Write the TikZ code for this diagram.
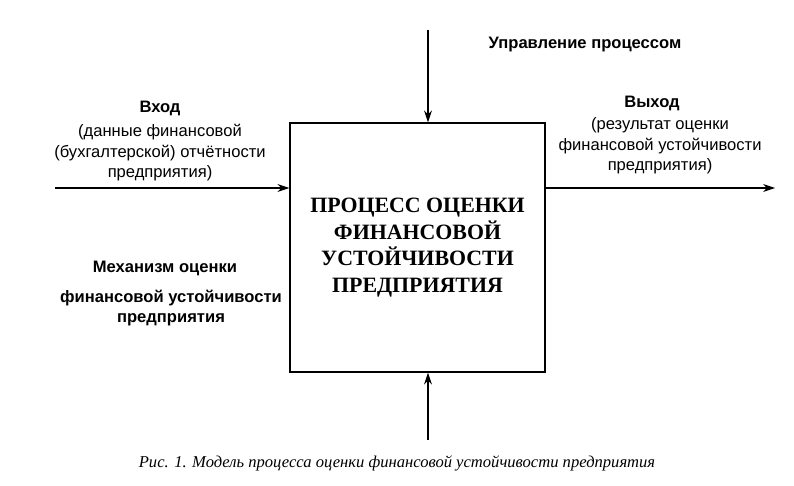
\documentclass[tikz,border=0pt]{standalone}
\usepackage{fontspec}
\setmainfont{Liberation Serif}
\newfontfamily\lbl{Liberation Sans}
\usetikzlibrary{arrows.meta}
\tikzset{
  flow/.style={-{Stealth[length=9pt,width=6pt]}, line width=0.9pt},
  caption/.style={font=\lbl\fontsize{12.5}{15.5}\selectfont, align=center},
  heading/.style={font=\lbl\bfseries\fontsize{12.5}{15}\selectfont}
}
\begin{document}
\begin{tikzpicture}[x=0.0265cm,y=-0.0265cm]
  \useasboundingbox (0,0) rectangle (794,486);
  %----------------------------------------------------
  % central process box
  %----------------------------------------------------
  \node[draw, line width=0.9pt, minimum width=255*0.0265cm, minimum height=249*0.0265cm,
        font=\bfseries\fontsize{16.5}{20}\selectfont, align=center] (proc) at (417.5,247.5)
        {ПРОЦЕСС ОЦЕНКИ\\ФИНАНСОВОЙ\\УСТОЙЧИВОСТИ\\ПРЕДПРИЯТИЯ};
  % free ends of the arrows
  \coordinate (ctl) at (428,30);
  \coordinate (mech) at (428,440);
  \coordinate (in) at (55,188);
  \coordinate (out) at (775,188);
  \draw[flow] (ctl) -- (ctl |- proc.north);
  \draw[flow] (mech) -- (mech |- proc.south);
  \draw[flow] (in) -- (in -| proc.west);
  \draw[flow] (proc.east |- out) -- (out);
  % labels
  \node[heading] (ctltext) at (585,45) {Управление процессом};
  \node[heading] (intitle) at (160,108) {Вход};
  \node[caption] (intext) at (160,153) {(данные финансовой\\(бухгалтерской) отчётности\\предприятия)};
  \node[heading] (outtitle) at (652,103) {Выход};
  \node[caption] (outtext) at (660,146) {(результат оценки\\финансовой устойчивости\\предприятия)};
  \node[heading] (mechtitle) at (165,268) {Механизм оценки};
  \node[heading, align=center] (mechtext) at (171,308) {финансовой устойчивости\\предприятия};
  \node[font=\itshape\fontsize{12.5}{14}\selectfont] (fig) at (397,463)
    {Рис. 1. Модель процесса оценки финансовой устойчивости предприятия};
\end{tikzpicture}
\end{document}
